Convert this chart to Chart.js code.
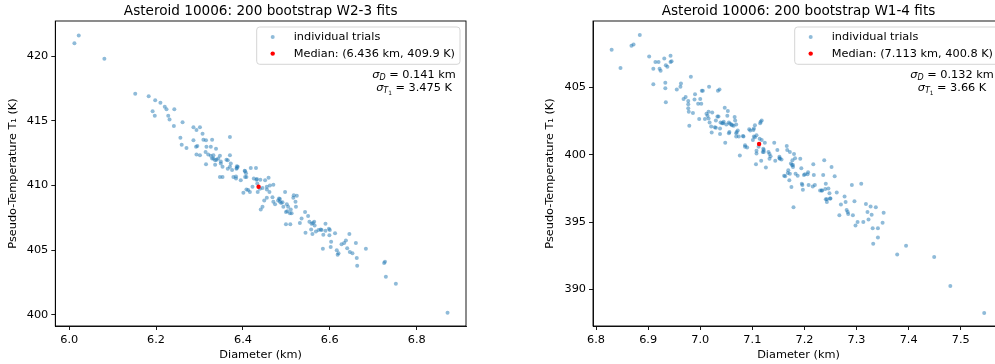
<!DOCTYPE html>
<html><head><meta charset="utf-8">
<script src="https://cdn.jsdelivr.net/npm/chart.js@4.4.0/dist/chart.umd.min.js"></script>
<style>
html,body{margin:0;padding:0;background:#fff;overflow:hidden;width:995px;height:364px;}
#wrap{position:relative;width:995px;height:364px;overflow:hidden;}
.c{position:absolute;top:0;height:364px;}
</style></head><body>
<div id="wrap">
<div class="c" style="left:0;width:500px"><canvas id="c1" width="500" height="364"></canvas></div>
<div class="c" style="left:500px;width:510px"><canvas id="c2" width="510" height="364"></canvas></div>
</div>
<script>
// ---------- data: W2-3 fits ----------
const w23D = [6.012,6.022,6.081,6.152,6.183,6.198,6.210,6.220,6.224,6.242,
6.192,6.197,6.228,6.231,6.261,6.241,6.286,6.293,6.301,6.307,
6.256,6.286,6.309,6.329,6.370,6.259,6.270,6.292,6.295,6.316,
6.326,6.314,6.320,6.293,6.301,6.332,6.347,6.343,6.362,6.370,
6.315,6.329,6.336,6.349,6.365,6.372,6.347,6.353,6.370,6.375,
6.388,6.385,6.386,6.378,6.384,6.395,6.404,6.407,6.408,6.418,
6.430,6.425,6.431,6.433,6.422,6.412,6.408,6.401,6.416,6.434,
6.445,6.451,6.455,6.459,6.462,6.470,6.439,6.449,6.445,6.441,
6.455,6.461,6.468,6.470,6.474,6.481,6.485,6.488,6.491,6.493,
6.497,6.501,6.504,6.508,6.512,6.502,6.510,6.516,6.521,6.524,
6.522,6.499,6.509,6.531,6.543,6.550,6.553,6.558,6.564,6.565,
6.557,6.560,6.568,6.574,6.581,6.579,6.585,6.590,6.598,6.600,
6.599,6.603,6.602,6.584,6.612,6.616,6.618,6.620,6.627,6.637,
6.640,6.645,6.646,6.652,6.660,6.662,6.663,6.683,6.729,6.725,
6.727,6.752,6.871,
6.315,6.338,6.326,6.332,6.339,6.349,6.336,6.353,6.365,6.386,
6.405,6.384,6.405,6.432,6.440,6.455,6.483,6.485,6.517,6.499,
6.535,6.561,6.544,6.633,6.590];
const w23T = [421.0,421.6,419.8,417.1,416.9,416.6,416.4,416.1,415.9,415.9,
415.75,415.4,415.4,415.1,414.9,414.6,414.5,414.3,414.5,414.0,
413.7,413.5,413.55,413.55,413.75,413.15,412.9,413.0,413.05,413.0,
413.0,412.6,412.4,412.4,412.35,412.35,412.3,412.1,412.0,412.35,
411.65,412.1,411.95,411.7,411.95,411.7,410.65,410.65,411.45,411.2,
411.45,411.3,411.5,410.65,410.55,410.4,411.15,410.95,410.65,411.35,
411.35,410.55,410.45,410.15,409.9,409.65,409.7,409.45,409.5,409.5,
409.8,410.4,409.9,410.6,410.0,410.05,409.75,408.85,408.35,408.15,
409.05,409.5,409.1,408.75,408.55,408.85,408.95,408.65,408.7,408.35,
409.5,408.55,408.35,407.85,407.85,408.0,408.15,409.05,408.75,409.2,
408.35,407.0,407.0,407.1,407.95,407.65,407.2,407.05,407.2,406.9,
406.6,406.25,406.45,406.55,406.55,406.6,406.2,407.05,406.65,406.55,
406.15,405.65,405.25,405.1,406.3,405.0,404.65,404.75,405.45,405.75,
405.15,406.25,404.85,404.75,405.55,404.4,403.8,405.1,402.95,404.0,
404.1,402.4,400.15,
413.5,412.85,412.3,412.1,412.0,411.85,411.6,411.45,411.3,411.35,
411.1,410.7,410.65,410.5,410.45,409.7,409.0,408.75,409.25,407.95,
407.45,407.1,406.35,405.55,406.5];
const w23Median = [6.436, 409.9];
const w23XTicks = [6.0, 6.2, 6.4, 6.6, 6.8];
const w23YTicks = [400, 405, 410, 415, 420];

// ---------- data: W1-4 fits ----------
const w14D = [6.830,6.847,6.868,6.872,6.884,6.902,6.910,6.910,6.914,6.920,
6.922,6.924,6.931,6.933,6.933,6.934,6.937,6.943,6.943,6.945,
6.934,6.955,6.962,6.963,6.968,6.972,6.977,6.977,6.977,6.978,
6.979,6.982,6.986,6.990,6.989,6.996,7.000,7.002,7.003,7.005,
7.009,7.014,7.016,7.017,7.018,7.021,7.022,7.023,7.028,7.030,
7.033,7.034,7.035,7.037,7.038,7.039,7.042,7.044,7.047,7.048,
7.052,7.053,7.055,7.056,7.057,7.060,7.064,7.066,7.067,7.069,
7.070,7.072,7.074,7.076,7.082,7.083,7.086,7.090,7.094,7.096,
7.102,7.103,7.101,7.103,7.105,7.108,7.107,7.108,7.112,7.114,
7.115,7.116,7.118,7.118,7.120,7.121,7.124,7.122,7.117,7.126,
7.131,7.133,7.135,7.142,7.144,7.148,7.152,7.153,7.156,7.161,
7.163,7.166,7.167,7.169,7.171,7.172,7.174,7.176,7.175,7.177,
7.178,7.179,7.180,7.182,7.183,7.187,7.192,7.194,7.195,7.197,
7.199,7.201,7.206,7.208,7.217,7.216,7.218,7.230,7.233,7.236,
7.238,7.240,7.241,7.241,7.243,7.246,7.248,7.249,7.250,7.252,
7.258,7.262,7.267,7.270,7.277,7.279,7.281,7.283,7.284,7.293,
7.291,7.296,7.298,7.302,7.309,7.313,7.318,7.321,7.323,7.327,
7.329,7.331,7.332,7.337,7.341,7.341,7.350,7.352,7.378,7.395,
7.449,7.480,7.545,
6.998,7.012,7.016,7.030,7.038,7.045,7.050,7.055,7.061,7.069,
7.069,7.105,7.086,7.108,7.122,7.133,7.152,7.172,7.178,7.168,
7.207,7.196,7.220,7.234,7.243];
const w14T = [407.8,406.45,408.1,408.2,408.9,407.3,406.4,405.25,406.9,406.9,
406.4,406.25,407.15,405.35,404.95,406.65,406.55,406.9,407.35,406.95,
403.9,404.85,405.05,405.3,404.15,404.3,404.0,403.75,403.45,403.2,
402.15,405.8,403.1,404.5,404.1,403.8,404.15,403.8,404.75,404.75,
402.65,402.9,403.2,405.05,402.4,402.1,401.65,403.15,402.05,402.55,
402.85,404.75,402.85,404.85,401.95,402.4,402.35,402.35,403.5,400.9,
402.9,403.25,402.4,401.7,402.3,402.25,402.15,402.8,402.55,402.25,
401.7,401.8,401.35,399.95,401.4,401.35,400.7,400.55,401.9,401.8,
401.85,401.95,401.1,401.35,402.2,401.45,399.3,400.1,400.6,401.2,
402.35,402.45,402.55,401.1,400.2,400.45,400.9,400.35,399.55,399.05,
400.2,400.05,399.9,400.9,399.55,400.35,399.85,399.7,399.65,398.45,
398.4,400.65,400.35,398.85,398.1,398.6,399.35,399.25,397.6,399.6,
399.1,396.1,400.05,399.75,398.6,398.45,399.7,399.0,397.85,397.4,
398.5,398.55,398.55,397.75,399.3,397.65,398.5,397.35,397.35,398.5,
399.6,397.45,397.85,396.7,396.5,397.5,397.15,396.75,396.75,399.1,
398.4,397.2,395.5,396.3,396.9,396.5,395.9,395.75,395.6,395.5,
397.75,396.55,394.75,395.0,397.85,395.0,396.35,395.75,395.2,396.15,
395.55,394.55,393.4,396.1,393.85,394.55,394.95,395.7,392.6,393.25,
392.4,390.25,388.25,
402.65,403.05,402.7,402.0,401.55,402.45,402.25,401.6,402.2,401.35,
401.6,401.3,400.6,400.3,400.2,399.7,399.75,400.2,399.25,398.65,
398.7,397.75,397.75,397.35,396.7];
const w14Median = [7.113, 400.8];
const w14XTicks = [6.8, 6.9, 7.0, 7.1, 7.2, 7.3, 7.4, 7.5];
const w14YTicks = [390, 395, 400, 405];

const titles = ['Asteroid 10006: 200 bootstrap W2-3 fits', 'Asteroid 10006: 200 bootstrap W1-4 fits'];
const medianLabels = ['Median: (6.436 km, 409.9 K)', 'Median: (7.113 km, 400.8 K)'];
const sigmaD = ['0.141 km', '0.132 km'];
const sigmaT = ['3.475 K', '3.66 K'];

// ---------- drawing ----------
const FAM = '"DejaVu Sans", sans-serif';
const FS = 11.3;
const BLUE = 'rgba(31,119,180,0.5)';
const RED = '#ff0000';

function drawRuns(ctx, runs, cx, base) {
  let w = 0;
  runs.forEach(r => { ctx.font = (r[2] ? 'italic ' : '') + r[1] + 'px ' + FAM; r.w = ctx.measureText(r[0]).width; w += r.w; });
  let x = cx - w / 2;
  ctx.textAlign = 'left'; ctx.textBaseline = 'alphabetic';
  runs.forEach(r => { ctx.font = (r[2] ? 'italic ' : '') + r[1] + 'px ' + FAM; ctx.fillText(r[0], x, base + r[3]); x += r.w; });
}

function decor(idx) {
  return {
    id: 'decor' + idx,
    afterDraw(chart) {
      const ctx = chart.ctx, a = chart.chartArea;
      ctx.save();
      ctx.strokeStyle = '#000'; ctx.lineWidth = 0.9;
      ctx.strokeRect(a.left, a.top, a.right - a.left, a.bottom - a.top);
      // title
      ctx.fillStyle = '#000';
      ctx.font = '13.6px ' + FAM; ctx.textAlign = 'center'; ctx.textBaseline = 'alphabetic';
      ctx.fillText(titles[idx], (a.left + a.right) / 2, 14.5);
      // legend
      const ds = chart.data.datasets;
      ctx.font = FS + 'px ' + FAM;
      const tw = Math.max(...ds.map(d => ctx.measureText(d.label).width));
      const right = a.right - 6, left = right - (16 + 21 + tw + 5);
      const top = a.top + 6, bot = a.top + 43.3;
      ctx.beginPath();
      ctx.roundRect(left, top, right - left, bot - top, 3);
      ctx.fillStyle = 'rgba(255,255,255,0.8)'; ctx.fill();
      ctx.strokeStyle = '#d0d0d0'; ctx.lineWidth = 0.9; ctx.stroke();
      const rows = [a.top + 16, a.top + 32.6];
      ds.forEach((d, i) => {
        ctx.beginPath(); ctx.arc(left + 16, rows[i], d.pointRadius, 0, Math.PI * 2);
        ctx.fillStyle = d.backgroundColor; ctx.fill();
        ctx.fillStyle = '#000'; ctx.font = FS + 'px ' + FAM;
        ctx.textAlign = 'left'; ctx.textBaseline = 'middle';
        ctx.fillText(d.label, left + 37, rows[i] + 0.5);
      });
      // sigma annotation
      ctx.fillStyle = '#000';
      const cx = a.right - 52;
      drawRuns(ctx, [['σ', FS, true, 0], ['D', 8, true, 2.5], [' = ' + sigmaD[idx], FS, false, 0]], cx, a.top + 56.5);
      drawRuns(ctx, [['σ', FS, true, 0], ['T', 8, true, 2.5], ['1', 5.8, false, 4.2], [' = ' + sigmaT[idx], FS, false, 0]], cx, a.top + 69.8);
      ctx.restore();
    }
  };
}

function makeChart(idx, id, xs, ys, med, xTicks, yTicks, xr, yr, padRight, yAxisW, yTitlePad) {
  const font = { family: FAM, size: FS };
  return new Chart(document.getElementById(id), {
    type: 'scatter',
    data: {
      datasets: [
        { label: 'individual trials', data: xs.map((x, i) => ({ x: x, y: ys[i] })),
          backgroundColor: BLUE, borderWidth: 0, pointRadius: 2.0, order: 2 },
        { label: medianLabels[idx], data: [{ x: med[0], y: med[1] }],
          backgroundColor: RED, borderWidth: 0, pointRadius: 2.2, order: 1 }
      ]
    },
    options: {
      responsive: false, animation: false, events: [],
      layout: { padding: { top: 21, right: padRight, bottom: 0, left: 0 } },
      plugins: { legend: { display: false }, tooltip: { enabled: false }, title: { display: false } },
      scales: {
        x: {
          type: 'linear', min: xr[0], max: xr[1],
          afterFit(s) { s.height = 38; },
          afterBuildTicks(s) { s.ticks = xTicks.map(v => ({ value: v })); },
          ticks: { font: font, color: '#000', padding: 3, maxRotation: 0, autoSkip: false,
                   callback: v => Number(v).toFixed(1) },
          grid: { display: true, drawOnChartArea: false, drawTicks: true, tickLength: 4, color: '#000', lineWidth: 0.9 },
          border: { display: true, color: '#000', width: 0.9 },
          title: { display: true, text: 'Diameter (km)', font: font, color: '#000', padding: { top: 0, bottom: 2.2 } }
        },
        y: {
          type: 'linear', min: yr[0], max: yr[1],
          afterFit(s) { s.width = yAxisW; },
          afterBuildTicks(s) { s.ticks = yTicks.map(v => ({ value: v })); },
          ticks: { font: font, color: '#000', padding: 3, autoSkip: false, callback: v => String(v) },
          grid: { display: true, drawOnChartArea: false, drawTicks: true, tickLength: 4, color: '#000', lineWidth: 0.9 },
          border: { display: true, color: '#000', width: 0.9 },
          title: { display: true, text: 'Pseudo-Temperature T₁ (K)', font: font, color: '#000', padding: { top: yTitlePad, bottom: 0 } }
        }
      }
    },
    plugins: [decor(idx)]
  });
}

makeChart(0, 'c1', w23D, w23T, w23Median, w23XTicks, w23YTicks, [5.968, 6.9135], [399.13, 422.73], 34, 55.3, 6.7);
makeChart(1, 'c2', w14D, w14T, w14Median, w14XTicks, w14YTicks, [6.7942, 7.583], [387.28, 409.94], 6, 93, 43.2);
</script>
</body></html>
